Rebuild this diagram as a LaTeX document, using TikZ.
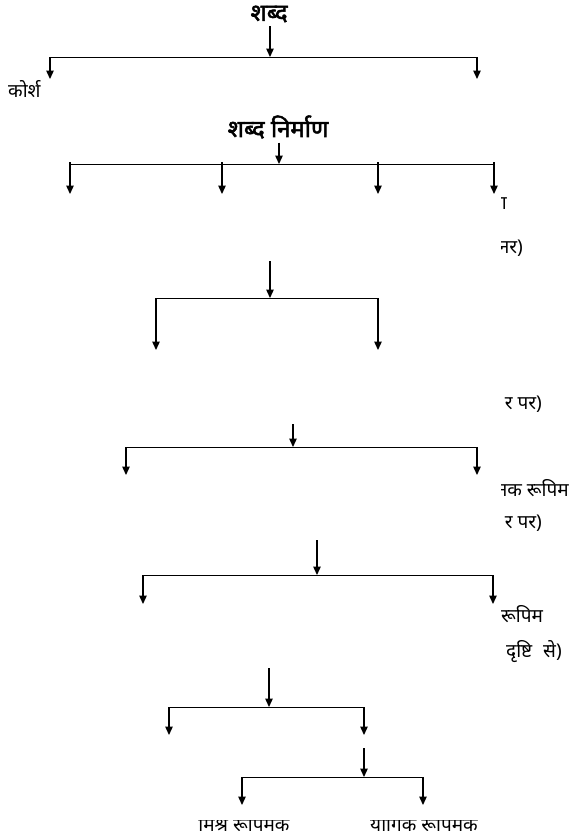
\documentclass[tikz,border=0pt]{standalone}
\usepackage{fontspec}
\newfontfamily\hindi[Script=Devanagari]{Noto Sans}
\newfontfamily\hindibf[Script=Devanagari,FakeBold=2.2]{Noto Sans}
\usetikzlibrary{arrows.meta,positioning}

\begin{document}
\begin{tikzpicture}[x=1pt,y=-1pt,
    lbl/.style={font=\hindi\fontsize{19}{21}\selectfont,inner sep=0pt},
    ttl/.style={font=\hindibf\fontsize{24}{26}\selectfont,inner sep=0pt,outer sep=4pt},
    arr/.style={-{Triangle[width=7.5pt,length=8.5pt]},line width=1.3pt},
    bar/.style={line width=1pt}
]
\useasboundingbox (0,0) rectangle (575,831);

% shabd
\node[ttl] (shabd) at (269,14) {शब्द};
\coordinate (t1) at (270,57);
\coordinate (t1l) at (50,57);
\coordinate (t1r) at (477,57);
\draw[arr] (shabd.south -| t1) -- (t1);
\draw[bar] (t1l) -- (t1r);
\foreach \x [count=\i] in {50,477} {
    \coordinate (e1\i) at (\x,79);
    \draw[arr] (\x,57) -- (e1\i);
}
\node[lbl,anchor=west] (kosh) at (8,89) {कोर्श};

% shabd nirman
\node[ttl] (nirman) at (278,127) {शब्द निर्माण};
\coordinate (t2) at (279,164);
\coordinate (t2l) at (70,164);
\coordinate (t2r) at (494,164);
\draw[arr] (nirman.south -| t2) -- (t2);
\draw[bar] (t2l) -- (t2r);
\foreach \x [count=\i] in {70,222,378,494} {
    \coordinate (b2\i) at (\x,162);
    \coordinate (e2\i) at (\x,194);
    \draw[arr] (b2\i) -- (e2\i);
}

% third level
\coordinate (s3) at (270,261);
\coordinate (t3) at (270,298);
\coordinate (t3l) at (156,298);
\coordinate (t3r) at (378,298);
\coordinate (e3l) at (156,350);
\coordinate (e3r) at (378,350);
\draw[arr] (s3) -- (t3);
\draw[bar] (t3l) -- (t3r);
\foreach \a/\b in {t3l/e3l,t3r/e3r}
    \draw[arr] (\a) -- (\b);

% fourth level
\coordinate (s4) at (293,424);
\coordinate (t4) at (293,447);
\coordinate (t4l) at (126,447);
\coordinate (t4r) at (477,447);
\coordinate (e4l) at (126,475);
\coordinate (e4r) at (477,475);
\draw[arr] (s4) -- (t4);
\draw[bar] (t4l) -- (t4r);
\foreach \a/\b in {t4l/e4l,t4r/e4r}
    \draw[arr] (\a) -- (\b);

% fifth level
\coordinate (s5) at (317,540);
\coordinate (t5) at (317,575);
\coordinate (t5l) at (143,575);
\coordinate (t5r) at (493,575);
\coordinate (e5l) at (143,604);
\coordinate (e5r) at (493,604);
\draw[arr] (s5) -- (t5);
\draw[bar] (t5l) -- (t5r);
\foreach \a/\b in {t5l/e5l,t5r/e5r}
    \draw[arr] (\a) -- (\b);

% sixth level
\coordinate (s6) at (269,668);
\coordinate (t6) at (269,707);
\coordinate (t6l) at (169,707);
\coordinate (t6r) at (364,707);
\coordinate (e6l) at (169,735);
\coordinate (e6r) at (364,735);
\draw[arr] (s6) -- (t6);
\draw[bar] (t6l) -- (t6r);
\foreach \a/\b in {t6l/e6l,t6r/e6r}
    \draw[arr] (\a) -- (\b);

% seventh level
\coordinate (s7) at (364,748);
\coordinate (t7) at (364,777);
\coordinate (t7l) at (242,777);
\coordinate (t7r) at (423,777);
\coordinate (e7l) at (242,805);
\coordinate (e7r) at (423,805);
\draw[arr] (s7) -- (t7);
\draw[bar] (t7l) -- (t7r);
\foreach \a/\b in {t7l/e7l,t7r/e7r}
    \draw[arr] (\a) -- (\b);

% cut-off labels on the right
\begin{scope}
    \clip (501,180) rectangle (575,680);
    \node[lbl,anchor=east] (ra) at (507,204) {ना};
    \node[lbl,anchor=east] (rb) at (523,248) {नर)};
    \node[lbl,anchor=east] (rc) at (542,404) {र पर)};
    \node[lbl,anchor=east] (rd) at (569,488) {नक रूपिम};
    \node[lbl,anchor=east] (re) at (542,523) {र पर)};
    \node[lbl,anchor=west] (rf) at (501,614) {रूपिम};
    \node[lbl,anchor=west] (rg) at (506,652) {दृष्टि\hspace{6pt} से)};
\end{scope}

% cut-off labels at the bottom
\begin{scope}
    \clip (0,820) rectangle (575,831);
    \node[lbl,anchor=base] (mishra) at (244,831) {मिश्र रूपिमक};
    \node[lbl,anchor=base] (yogik) at (424,831) {योगिक रूपिमक};
\end{scope}
\end{tikzpicture}
\end{document}
